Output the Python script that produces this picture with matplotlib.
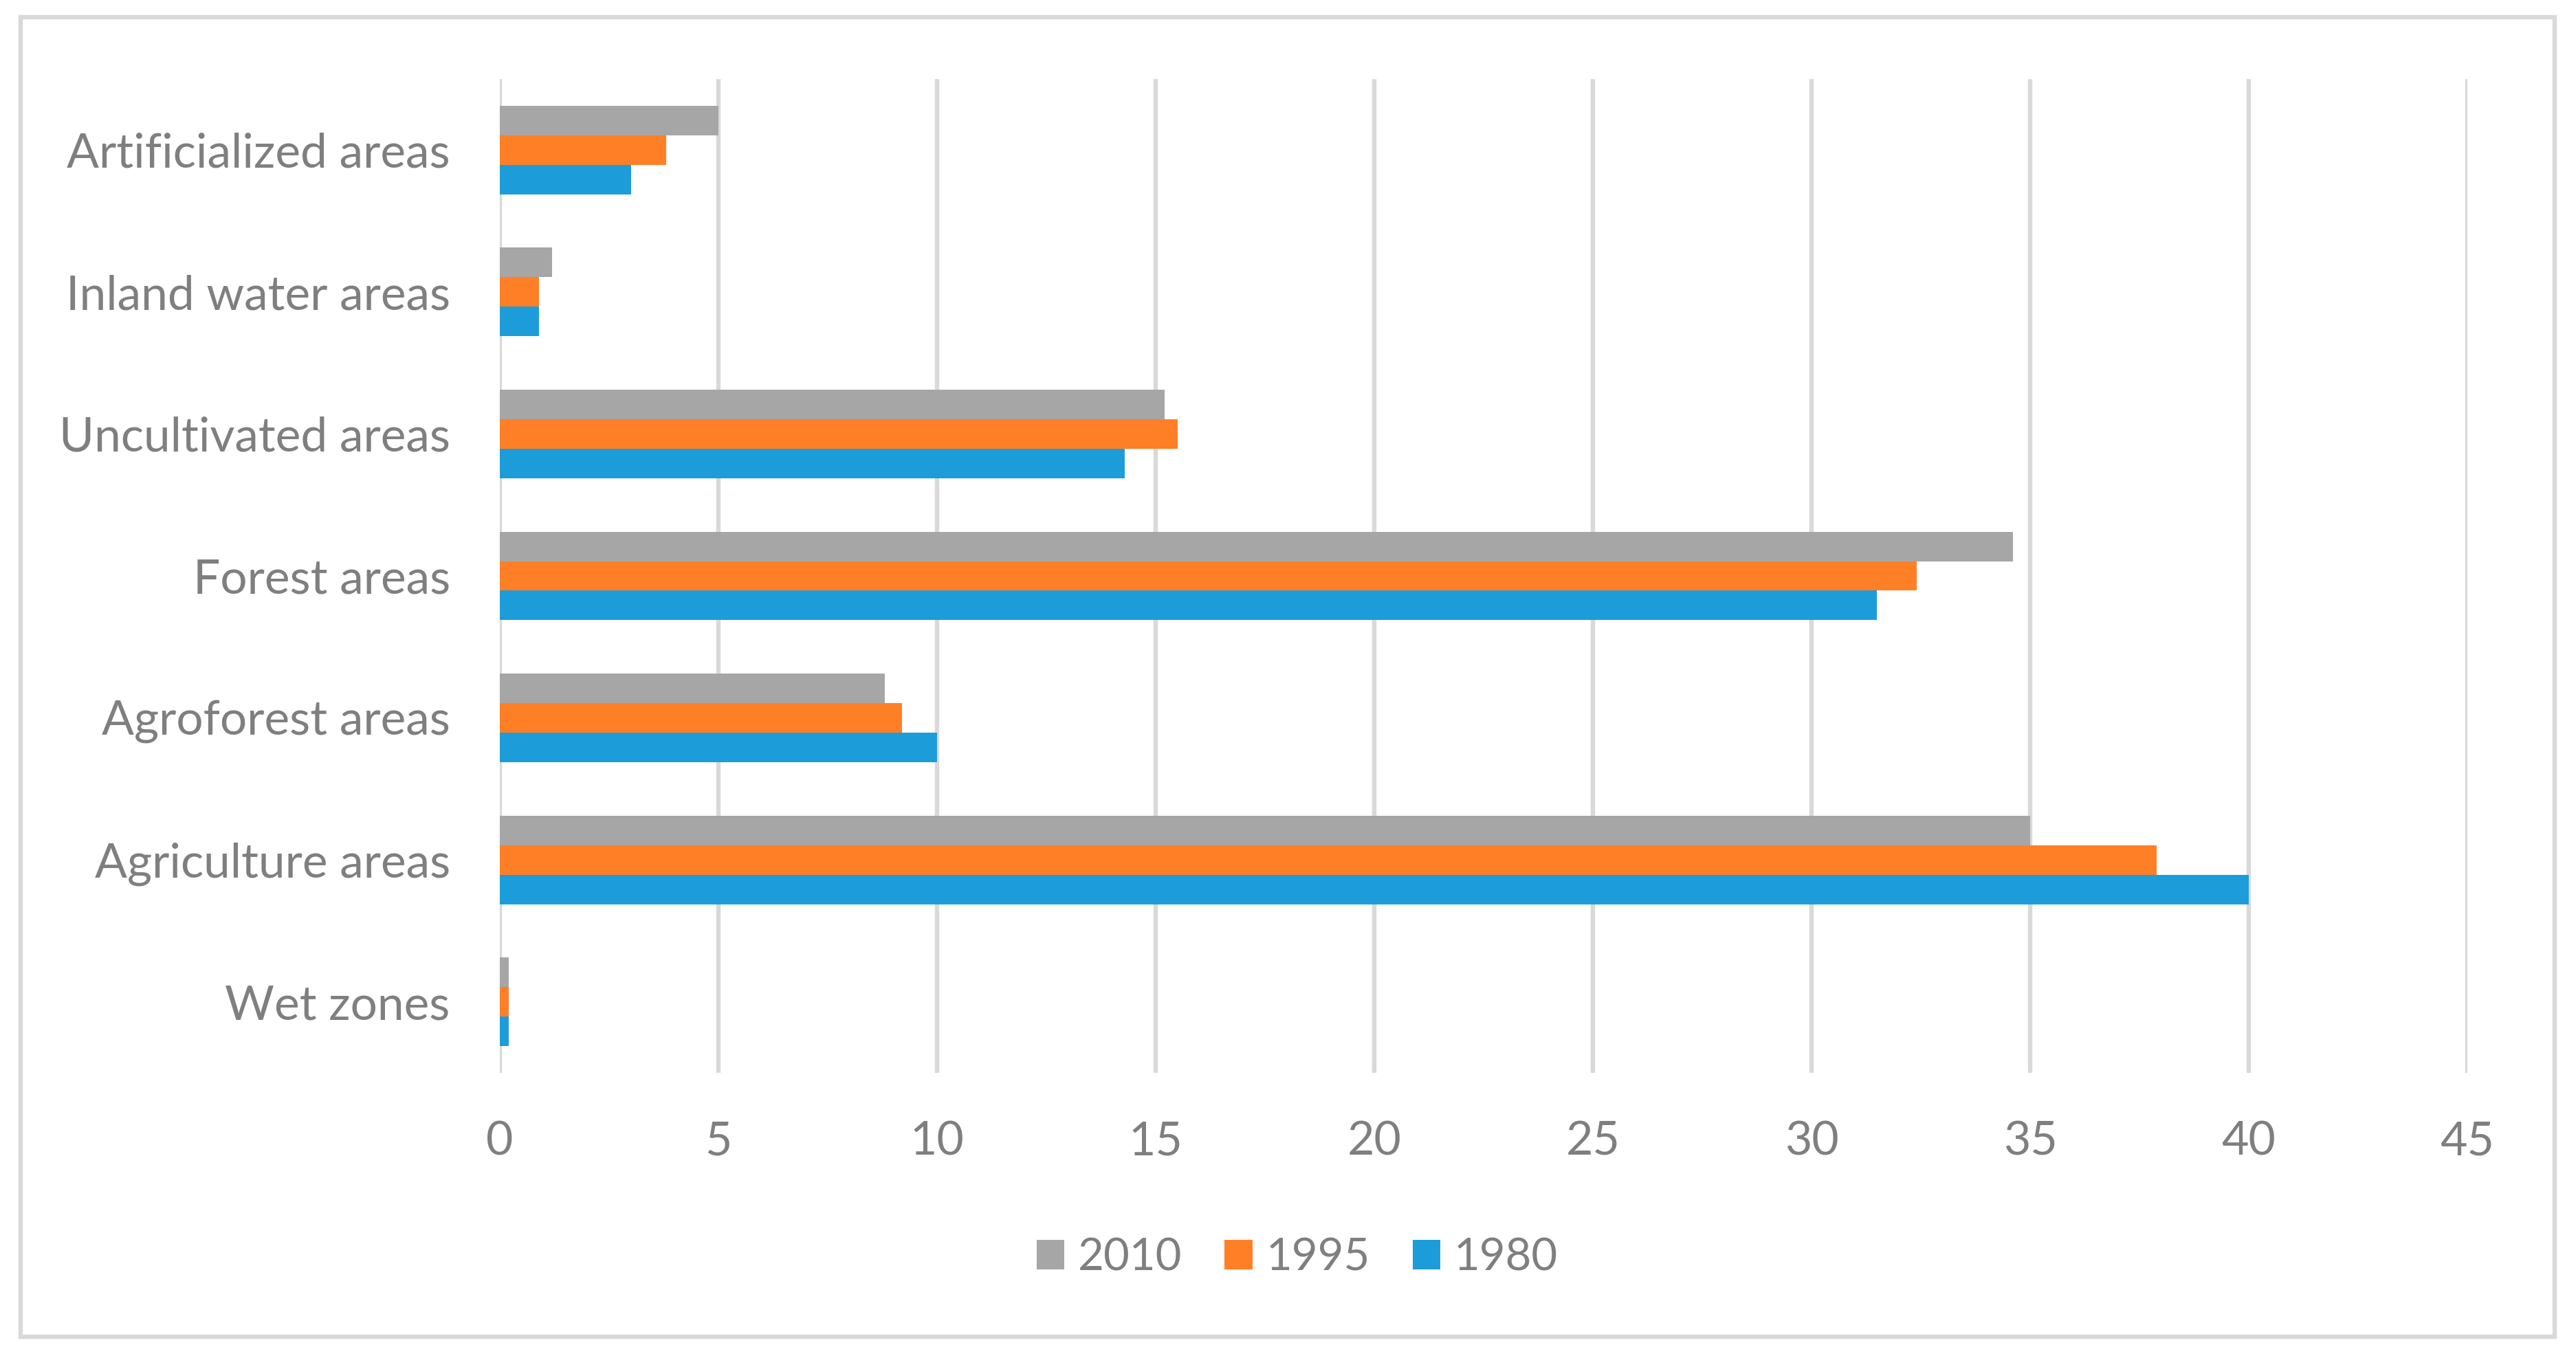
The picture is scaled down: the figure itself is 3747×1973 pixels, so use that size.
import matplotlib
matplotlib.use("Agg")
import matplotlib.pyplot as plt
import numpy as np
from matplotlib.patches import Patch, Rectangle

# land use shares (%) per year
categories = ["Wet zones", "Agriculture areas", "Agroforest areas", "Forest areas",
              "Uncultivated areas", "Inland water areas", "Artificialized areas"]
years = ["1980", "1995", "2010"]
values_1980 = [0.2, 40.0, 10.0, 31.5, 14.3, 0.9, 3.0]
values_1995 = [0.2, 37.9, 9.2, 32.4, 15.5, 0.9, 3.8]
values_2010 = [0.2, 35.0, 8.8, 34.6, 15.2, 1.2, 5.0]
x_ticks = [0, 5, 10, 15, 20, 25, 30, 35, 40, 45]

colors = {"1980": "#1c9dd9", "1995": "#ff7f27", "2010": "#a6a6a6"}
text_color = "#7f7f7f"
grid_color = "#d9d9d9"

plt.rcParams['font.family'] = ['Lato', 'DejaVu Sans']

W, H = 3747, 1973
fig = plt.figure(figsize=(W / 100, H / 100), dpi=100)
ax = fig.add_axes([727 / W, 1 - 1561 / H, (3589 - 727) / W, (1561 - 115) / H])

y = np.arange(len(categories))
h = 0.208
series = [("1980", values_1980, -h), ("1995", values_1995, 0), ("2010", values_2010, h)]
for name, vals, off in series:
  ax.barh(y + off, vals, height=h, color=colors[name], zorder=3, linewidth=0)

ax.set_xlim(0, 45)
ax.set_ylim(-0.5, len(categories) - 0.5)
ax.set_xticks(x_ticks)
ax.set_xticklabels([str(t) for t in x_ticks])
ax.set_yticks(y)
ax.set_yticklabels(categories)
ax.xaxis.grid(True, color=grid_color, linewidth=4.6, zorder=0)
ax.set_axisbelow(True)
for s in ax.spines.values():
  s.set_visible(False)
ax.tick_params(axis='x', length=0, pad=50, labelsize=49, labelcolor=text_color)
ax.tick_params(axis='y', length=0, pad=52, labelsize=50, labelcolor=text_color)

# legend, reversed order like the original
handles = [Patch(facecolor=colors[n], edgecolor='none', label=n) for n in ["2010", "1995", "1980"]]
fig.legend(handles=handles, loc='center', bbox_to_anchor=(1887 / W, 1 - 1830 / H), ncol=3,
           frameon=False, fontsize=47, labelcolor=text_color, handlelength=0.62,
           handleheight=0.62, handletextpad=0.3, columnspacing=0.95, borderaxespad=0)

# outer chart border
fig.patches.append(Rectangle((30 / W, 1 - 1945 / H), (3716 - 30) / W, (1945 - 25) / H,
                             transform=fig.transFigure, fill=False, edgecolor=grid_color,
                             linewidth=4.6))

fig.savefig("out.png", dpi=100, facecolor="white")
